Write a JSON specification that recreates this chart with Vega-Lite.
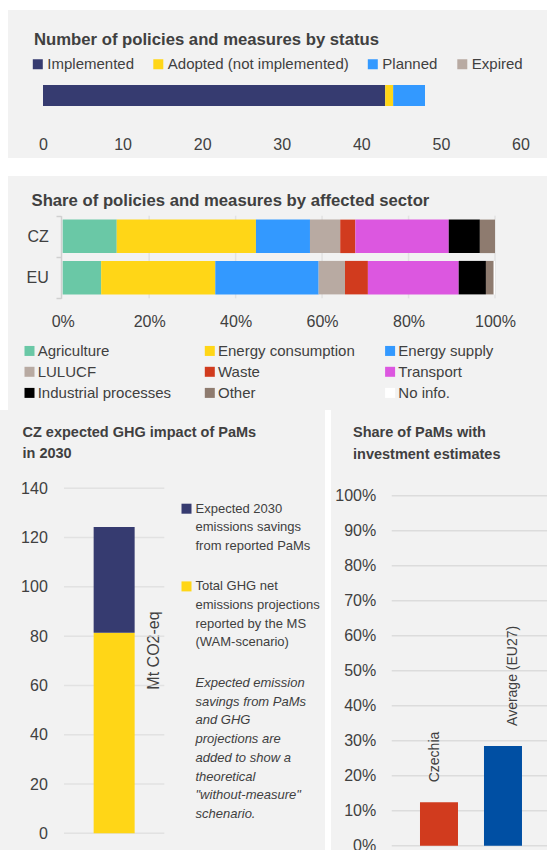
{
  "$schema": "https://vega.github.io/schema/vega-lite/v6.json",
  "background": "white",
  "padding": {"left": 0, "top": 10, "right": 0, "bottom": -4},
  "spacing": 0,
  "resolve": {"scale": {"color": "independent"}, "legend": {"color": "independent"}},
  "config": {
    "font": "Liberation Sans",
    "view": {"stroke": null},
    "axis": {"labelColor": "#404040", "labelFontSize": 16, "labelFlush": false, "titleColor": "#404040"},
    "legend": {"labelColor": "#404040", "labelFontSize": 15, "symbolStrokeWidth": 0, "padding": 0, "labelLimit": 300},
    "title": {"color": "#404040", "fontWeight": "bold", "frame": "group", "anchor": "start"}
  },
  "datasets": {
    "status": [
      {"cat": "CZ", "status": "Implemented", "n": 43},
      {"cat": "CZ", "status": "Adopted (not implemented)", "n": 1},
      {"cat": "CZ", "status": "Planned", "n": 4},
      {"cat": "CZ", "status": "Expired", "n": 0}
    ],
    "sector": [
      {"cat": "CZ", "sector": "Agriculture", "share": 0.125},
      {"cat": "CZ", "sector": "Energy consumption", "share": 0.322},
      {"cat": "CZ", "sector": "Energy supply", "share": 0.125},
      {"cat": "CZ", "sector": "LULUCF", "share": 0.070},
      {"cat": "CZ", "sector": "Waste", "share": 0.035},
      {"cat": "CZ", "sector": "Transport", "share": 0.216},
      {"cat": "CZ", "sector": "Industrial processes", "share": 0.072},
      {"cat": "CZ", "sector": "Other", "share": 0.035},
      {"cat": "EU", "sector": "Agriculture", "share": 0.089},
      {"cat": "EU", "sector": "Energy consumption", "share": 0.264},
      {"cat": "EU", "sector": "Energy supply", "share": 0.239},
      {"cat": "EU", "sector": "LULUCF", "share": 0.061},
      {"cat": "EU", "sector": "Waste", "share": 0.053},
      {"cat": "EU", "sector": "Transport", "share": 0.210},
      {"cat": "EU", "sector": "Industrial processes", "share": 0.063},
      {"cat": "EU", "sector": "Other", "share": 0.018},
      {"cat": "EU", "sector": "No info.", "share": 0.003}
    ],
    "sectorGrid": [
      {"cat": "CZ", "x": 0.2}, {"cat": "CZ", "x": 0.4}, {"cat": "CZ", "x": 0.6}, {"cat": "CZ", "x": 0.8}, {"cat": "CZ", "x": 1},
      {"cat": "EU", "x": 0.2}, {"cat": "EU", "x": 0.4}, {"cat": "EU", "x": 0.6}, {"cat": "EU", "x": 0.8}, {"cat": "EU", "x": 1}
    ],
    "ghg": [
      {"cat": "CZ", "series": "Total GHG net|emissions projections|reported by the MS|(WAM-scenario)", "v": 81.4},
      {"cat": "CZ", "series": "Expected 2030|emissions savings|from reported PaMs", "v": 42.9}
    ],
    "ghgGrid": [
      {"cat": "CZ", "v": 0}, {"cat": "CZ", "v": 20}, {"cat": "CZ", "v": 40}, {"cat": "CZ", "v": 60},
      {"cat": "CZ", "v": 80}, {"cat": "CZ", "v": 100}, {"cat": "CZ", "v": 120}, {"cat": "CZ", "v": 140}
    ],
    "inv": [
      {"c": "Czechia", "v": 0.124},
      {"c": "Average (EU27)", "v": 0.285}
    ],
    "invGrid": [
      {"v": 0}, {"v": 0.1}, {"v": 0.2}, {"v": 0.3}, {"v": 0.4}, {"v": 0.5},
      {"v": 0.6}, {"v": 0.7}, {"v": 0.8}, {"v": 0.9}, {"v": 1}
    ]
  },
  "vconcat": [
    {
      "spacing": 0,
      "resolve": {"scale": {"color": "independent"}, "legend": {"color": "independent"}},
      "hconcat": [
        {
          "width": 8, "height": 400,
          "view": {"fill": "white", "stroke": null},
          "data": {"values": []},
          "mark": "rect",
          "encoding": {}
        },
        {
          "spacing": 10,
          "resolve": {"scale": {"color": "independent"}, "legend": {"color": "independent"}},
          "vconcat": [
            {
              "width": 539, "height": 148,
              "view": {"fill": "#f2f2f2", "stroke": null},
              "title": {"text": "Number of policies and measures by status", "fontSize": 16.7, "offset": -38.8, "dx": 26},
              "data": {"name": "status"},
              "transform": [{"calculate": "indexof(['Implemented','Adopted (not implemented)','Planned','Expired'], datum.status)", "as": "o"}],
              "mark": {"type": "bar", "size": 21},
              "encoding": {
                "y": {"field": "cat", "type": "nominal", "axis": null, "scale": {"range": [75, 96], "paddingInner": 0, "paddingOuter": 0}},
                "x": {"field": "n", "type": "quantitative", "stack": "zero",
                  "scale": {"domain": [0, 60], "range": [35, 512.5], "nice": false},
                  "axis": {"values": [0, 10, 20, 30, 40, 50, 60], "grid": false, "domain": false, "ticks": false, "tickSize": 0, "labelPadding": 0, "offset": -22, "title": null}},
                "color": {"field": "status", "type": "nominal",
                  "scale": {"domain": ["Implemented", "Adopted (not implemented)", "Planned", "Expired"], "range": ["#363b70", "#ffd617", "#3399ff", "#b8aaa2"]},
                  "legend": {"orient": "none", "legendX": 22.3, "legendY": 46.5, "direction": "horizontal", "title": null, "symbolType": "square", "symbolSize": 100, "columnPadding": 16.5, "labelOffset": 2}},
                "order": {"field": "o", "type": "quantitative"}
              }
            },
            {
              "width": 539, "height": 234,
              "view": {"fill": "#f2f2f2", "stroke": null},
              "title": {"text": "Share of policies and measures by affected sector", "fontSize": 16.7, "offset": -41.5, "dx": 23.5},
              "layer": [
                {
                  "data": {"name": "sectorGrid"},
                  "mark": {"type": "tick", "size": 41.3, "thickness": 1.5, "color": "#dcdcdc"},
                  "encoding": {
                    "x": {"field": "x", "type": "quantitative",
                      "scale": {"domain": [0, 1], "range": [54.7, 487], "nice": false},
                      "axis": {"values": [0, 0.2, 0.4, 0.6, 0.8, 1], "format": ".0%", "grid": false, "domain": false, "ticks": false, "tickSize": 0, "labelPadding": 0, "offset": -88.3, "labelBaseline": "middle", "title": null}},
                    "y": {"field": "cat", "type": "nominal",
                      "scale": {"domain": ["CZ", "EU"], "range": [39.7, 122.3], "paddingInner": 0, "paddingOuter": 0},
                      "axis": {"title": null, "offset": -53, "grid": false, "domainColor": "#d0d0d0", "domainWidth": 1.5, "tickColor": "#d0d0d0", "tickWidth": 1.5, "tickSize": 5, "tickBand": "extent", "labelPadding": 7.7}}
                  }
                },
                {
                  "data": {"name": "sector"},
                  "transform": [{"calculate": "indexof(['Agriculture','Energy consumption','Energy supply','LULUCF','Waste','Transport','Industrial processes','Other','No info.'], datum.sector)", "as": "o"}],
                  "mark": {"type": "bar", "size": 33.5},
                  "encoding": {
                    "x": {"field": "share", "type": "quantitative", "stack": "zero",
                      "scale": {"domain": [0, 1], "range": [54.7, 487], "nice": false},
                      "axis": {"values": [0, 0.2, 0.4, 0.6, 0.8, 1], "format": ".0%", "grid": false, "domain": false, "ticks": false, "tickSize": 0, "labelPadding": 0, "offset": -88.3, "labelBaseline": "middle", "title": null}},
                    "y": {"field": "cat", "type": "nominal",
                      "scale": {"domain": ["CZ", "EU"], "range": [39.7, 122.3], "paddingInner": 0, "paddingOuter": 0},
                      "axis": {"title": null, "offset": -53, "grid": false, "domainColor": "#d0d0d0", "domainWidth": 1.5, "tickColor": "#d0d0d0", "tickWidth": 1.5, "tickSize": 5, "tickBand": "extent", "labelPadding": 7.7}},
                    "color": {"field": "sector", "type": "nominal",
                      "scale": {"domain": ["Agriculture", "Energy consumption", "Energy supply", "LULUCF", "Waste", "Transport", "Industrial processes", "Other", "No info."],
                                "range": ["#6ac8a6", "#ffd617", "#3399ff", "#b8aaa2", "#d13b1e", "#dc57e0", "#000000", "#8e7b6f", "#ffffff"]},
                      "legend": {"orient": "none", "legendX": 14, "legendY": 167.2, "direction": "horizontal", "columns": 3, "gridAlign": "all", "columnPadding": 27.3, "rowPadding": 5.1, "title": null, "symbolType": "square", "symbolSize": 100, "labelOffset": 0.7}},
                    "order": {"field": "o", "type": "quantitative"}
                  }
                }
              ]
            }
          ]
        }
      ]
    },
    {
      "spacing": 6,
      "resolve": {"scale": {"color": "independent"}, "legend": {"color": "independent"}},
      "hconcat": [
        {
          "width": 325, "height": 440,
          "view": {"fill": "#f2f2f2", "stroke": null},
          "title": {"text": ["CZ expected GHG impact of PaMs", "in 2030"], "fontSize": 14.5, "lineHeight": 21, "offset": -51, "dx": 22.5},
          "layer": [
            {
              "data": {"name": "ghgGrid"},
              "mark": {"type": "tick", "size": 100.3, "thickness": 1.5, "color": "#dcdcdc"},
              "encoding": {
                "x": {"field": "cat", "type": "nominal", "axis": null, "scale": {"domain": ["CZ"], "range": [64, 164.3], "paddingInner": 0, "paddingOuter": 0}},
                "y": {"field": "v", "type": "quantitative",
                  "scale": {"domain": [0, 140], "range": [423.3, 78.3], "nice": false},
                  "axis": {"values": [0, 20, 40, 60, 80, 100, 120, 140], "offset": -64, "domain": false, "ticks": false, "tickSize": 0, "labelPadding": 16.7, "grid": false,
                    "title": "Mt CO2-eq", "titleX": 89.3, "titleY": 240, "titleAngle": -90, "titleAlign": "center", "titleBaseline": "middle", "titleFontSize": 16, "titleFontWeight": "normal"}}
              }
            },
            {
              "data": {"name": "ghg"},
              "transform": [{"calculate": "indexof(['Total GHG net|emissions projections|reported by the MS|(WAM-scenario)','Expected 2030|emissions savings|from reported PaMs'], datum.series)", "as": "o"}],
              "mark": {"type": "bar", "size": 41},
              "encoding": {
                "x": {"field": "cat", "type": "nominal", "axis": null, "scale": {"domain": ["CZ"], "range": [64, 164.3], "paddingInner": 0, "paddingOuter": 0}},
                "y": {"field": "v", "type": "quantitative", "stack": "zero",
                  "scale": {"domain": [0, 140], "range": [423.3, 78.3], "nice": false},
                  "axis": {"values": [0, 20, 40, 60, 80, 100, 120, 140], "offset": -64, "domain": false, "ticks": false, "tickSize": 0, "labelPadding": 16.7, "grid": false,
                    "title": "Mt CO2-eq", "titleX": 89.3, "titleY": 240, "titleAngle": -90, "titleAlign": "center", "titleBaseline": "middle", "titleFontSize": 16, "titleFontWeight": "normal"}},
                "color": {"field": "series", "type": "nominal",
                  "scale": {"domain": ["Expected 2030|emissions savings|from reported PaMs", "Total GHG net|emissions projections|reported by the MS|(WAM-scenario)", "Expected emission|savings from PaMs|and GHG|projections are|added to show a|theoretical|\"without-measure\"|schenario."],
                            "range": ["#363b70", "#ffd617", "transparent"]},
                  "legend": {"orient": "none", "legendX": 180, "legendY": 92.2, "title": null, "symbolType": "square", "symbolSize": 100, "labelFontSize": 13, "labelOffset": 2.5, "rowPadding": 26.7,
                    "labelExpr": "split(datum.label, '|')",
                    "encode": {"labels": {"update": {"lineHeight": {"value": 18.7}, "fontStyle": {"signal": "indexof(datum.value, 'Expected emission') === 0 ? 'italic' : 'normal'"}}}}}},
                "order": {"field": "o", "type": "quantitative"}
              }
            }
          ]
        },
        {
          "width": 216, "height": 440,
          "view": {"fill": "#f2f2f2", "stroke": null},
          "title": {"text": ["Share of PaMs with", "investment estimates"], "fontSize": 14.5, "lineHeight": 22.3, "offset": -52.3, "dx": 22},
          "resolve": {"scale": {"x": "independent"}},
          "layer": [
            {
              "data": {"name": "invGrid"},
              "mark": {"type": "rule", "color": "#dcdcdc", "strokeWidth": 1.5},
              "encoding": {
                "x": {"datum": 0, "type": "quantitative", "scale": {"domain": [0, 1], "range": [60.7, 216]}, "axis": null},
                "x2": {"datum": 1},
                "y": {"field": "v", "type": "quantitative",
                  "scale": {"domain": [0, 1], "range": [435.7, 85.7], "nice": false},
                  "axis": {"values": [0, 0.1, 0.2, 0.3, 0.4, 0.5, 0.6, 0.7, 0.8, 0.9, 1], "format": ".0%", "offset": -60.7, "domain": false, "ticks": false, "tickSize": 0, "labelPadding": 16, "grid": false, "title": null}}
              }
            },
            {
              "data": {"name": "inv"},
              "mark": {"type": "bar", "size": 38},
              "encoding": {
                "x": {"field": "c", "type": "nominal", "sort": null, "axis": null,
                  "scale": {"domain": ["Czechia", "Average (EU27)"], "range": [60.7, 216], "paddingInner": 0, "paddingOuter": 0.2133, "align": 0.56}},
                "y": {"field": "v", "type": "quantitative",
                  "scale": {"domain": [0, 1], "range": [435.7, 85.7], "nice": false},
                  "axis": {"values": [0, 0.1, 0.2, 0.3, 0.4, 0.5, 0.6, 0.7, 0.8, 0.9, 1], "format": ".0%", "offset": -60.7, "domain": false, "ticks": false, "tickSize": 0, "labelPadding": 16, "grid": false, "title": null}},
                "color": {"field": "c", "type": "nominal", "scale": {"domain": ["Czechia", "Average (EU27)"], "range": ["#d13b1e", "#004fa3"]}, "legend": null}
              }
            },
            {
              "data": {"name": "inv"},
              "mark": {"type": "text", "angle": 270, "align": "left", "baseline": "middle", "dx": 20, "fontSize": 14, "color": "#404040"},
              "encoding": {
                "x": {"field": "c", "type": "nominal", "sort": null, "axis": null,
                  "scale": {"domain": ["Czechia", "Average (EU27)"], "range": [60.7, 216], "paddingInner": 0, "paddingOuter": 0.2133, "align": 0.56}},
                "y": {"field": "v", "type": "quantitative"},
                "text": {"field": "c"}
              }
            }
          ]
        }
      ]
    }
  ]
}
